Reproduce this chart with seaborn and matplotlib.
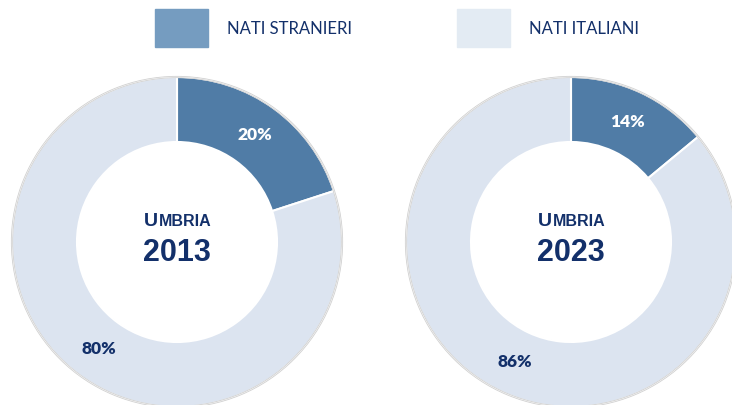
import matplotlib
matplotlib.use("Agg")
import matplotlib.pyplot as plt
import seaborn as sns
from matplotlib.patches import Rectangle

# data
regione = "UMBRIA"
anni = ["2013", "2023"]
stranieri = [20, 14]
italiani = [80, 86]
categorie = ["NATI STRANIERI", "NATI ITALIANI"]

sns.set_theme(style="white")
plt.rcParams['font.family'] = ['Lato', 'DejaVu Sans']

col_str = "#507ca6"
col_ita = "#dce4f0"
leg_str = "#759cc0"
leg_ita = "#e3ebf3"
navy = "#13306a"
arial = ["Liberation Sans", "DejaVu Sans"]

W, H = 732, 405
fig = plt.figure(figsize=(W / 100, H / 100), dpi=100)

# donut centres in pixels (x, y from top), outer radius
centri = [(177, 242), (571, 242)]
R = 165
inner = 100 / 165

for (cx, cy), anno, s, i in zip(centri, anni, stranieri, italiani):
    ax = fig.add_axes([(cx - R) / W, (H - cy - R) / H, 2 * R / W, 2 * R / H])
    wedges, texts = ax.pie(
        [s, i], colors=[col_str, col_ita], startangle=90, counterclock=False,
        radius=1, wedgeprops=dict(width=1 - inner, edgecolor="white", linewidth=1.5),
        labels=[f"{s}%", f"{i}%"], labeldistance=(1 + inner) / 2,
        textprops=dict(fontsize=12.5, fontweight="heavy", ha="center", va="center"),
    )
    texts[0].set_color("white")
    texts[1].set_color(navy)
    # outer faint rim
    ax.pie([1], radius=1.004, colors=["none"],
           wedgeprops=dict(width=0.008, edgecolor="#d0d0d0", linewidth=0.6))
    ax.set_xlim(-1, 1)
    ax.set_ylim(-1, 1)
    ax.set_aspect("equal")
    ax.axis("off")
    # centre label (small caps)
    ax.text(-0.115, 0.1, regione[0], fontsize=14, fontweight="bold", color=navy,
            ha="right", va="baseline", family=arial)
    ax.text(-0.11, 0.1, regione[1:], fontsize=11.5, fontweight="bold", color=navy,
            ha="left", va="baseline", family=arial)
    ax.text(0, -0.067, anno, fontsize=22, fontweight="bold", color=navy,
            ha="center", va="center", family=arial)

# legend
for (x0, col), lab in zip([(155, leg_str), (457, leg_ita)], categorie):
    fig.patches.append(Rectangle((x0 / W, (H - 47) / H), 53 / W, 38 / H,
                                 transform=fig.transFigure, color=col))
    fig.text((x0 + 72) / W, (H - 29) / H, lab, fontsize=12, color=navy,
             ha="left", va="center")

fig.savefig("out.png", dpi=100)
